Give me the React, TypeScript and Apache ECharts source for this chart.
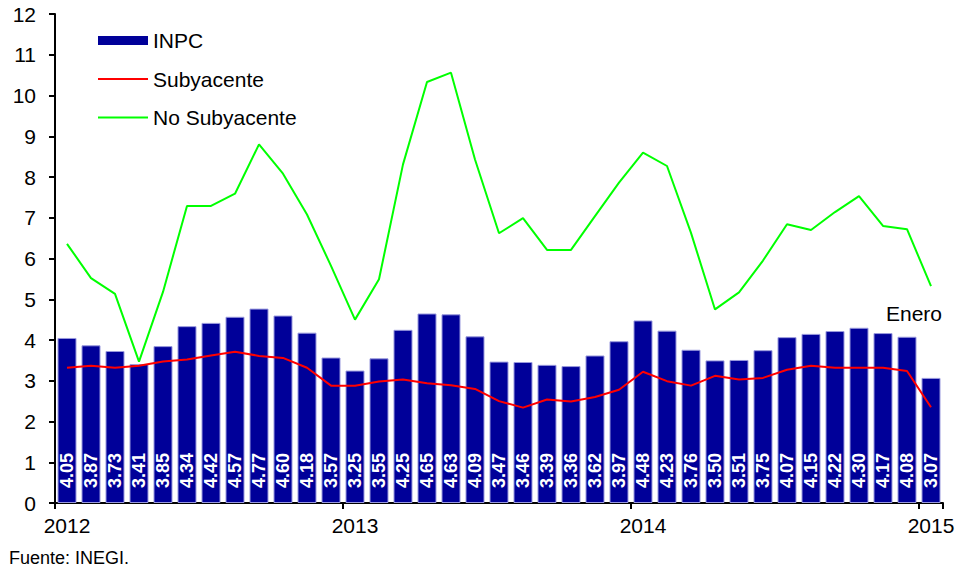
import React, { useEffect, useRef } from "react";
import * as echarts from "echarts";

const months = [
  "Ene-2012", "Feb-2012", "Mar-2012", "Abr-2012", "May-2012", "Jun-2012", "Jul-2012", "Ago-2012", "Sep-2012", "Oct-2012", "Nov-2012", "Dic-2012",
  "Ene-2013", "Feb-2013", "Mar-2013", "Abr-2013", "May-2013", "Jun-2013", "Jul-2013", "Ago-2013", "Sep-2013", "Oct-2013", "Nov-2013", "Dic-2013",
  "Ene-2014", "Feb-2014", "Mar-2014", "Abr-2014", "May-2014", "Jun-2014", "Jul-2014", "Ago-2014", "Sep-2014", "Oct-2014", "Nov-2014", "Dic-2014",
  "Ene-2015",
];

const inpc = [
  4.05, 3.87, 3.73, 3.41, 3.85, 4.34, 4.42, 4.57, 4.77, 4.60, 4.18, 3.57,
  3.25, 3.55, 4.25, 4.65, 4.63, 4.09, 3.47, 3.46, 3.39, 3.36, 3.62, 3.97,
  4.48, 4.23, 3.76, 3.50, 3.51, 3.75, 4.07, 4.15, 4.22, 4.30, 4.17, 4.08,
  3.07,
];

const subyacente = [
  3.32, 3.37, 3.32, 3.37, 3.47, 3.52, 3.62, 3.71, 3.61, 3.56, 3.32, 2.88,
  2.88, 2.98, 3.03, 2.94, 2.89, 2.80, 2.50, 2.34, 2.54, 2.49, 2.60, 2.78,
  3.22, 2.99, 2.88, 3.12, 3.03, 3.07, 3.27, 3.37, 3.32, 3.32, 3.32, 3.24,
  2.35,
];

const noSubyacente = [
  6.36, 5.52, 5.13, 3.47, 5.18, 7.29, 7.29, 7.59, 8.80, 8.08, 7.08, 5.82,
  4.50, 5.49, 8.31, 10.33, 10.56, 8.43, 6.62, 6.99, 6.21, 6.21, 7.04, 7.86,
  8.60, 8.27, 6.63, 4.75, 5.17, 5.95, 6.84, 6.70, 7.14, 7.53, 6.80, 6.72,
  5.32,
];

const FONT = "'Liberation Sans', Arial, Helvetica, sans-serif";
const LINE_ICON = "path://M0,0 L50,0 L50,2 L0,2 Z";

export default function App() {
  const ref = useRef<HTMLDivElement>(null);

  useEffect(() => {
    document.body.style.margin = "0";
    if (!ref.current) return;
    const chart = echarts.init(ref.current, undefined, { renderer: "svg" });
    const yearTick = (idx: number) => idx % 12 === 0;
    chart.setOption({
      animation: false,
      backgroundColor: "#ffffff",
      textStyle: { fontFamily: FONT },
      grid: { left: 55, right: 19, top: 14, bottom: 66, containLabel: false },
      legend: {
        orient: "vertical",
        left: 98,
        top: 30,
        padding: 0,
        itemWidth: 50,
        itemHeight: 9,
        itemGap: 17.5,
        textStyle: { fontFamily: FONT, fontSize: 21, color: "#000", lineHeight: 21 },
        data: [
          { name: "INPC", icon: "rect", itemStyle: { color: "#000099", borderWidth: 0 } },
          { name: "Subyacente", icon: LINE_ICON, itemStyle: { color: "#ff0000", borderWidth: 0 } },
          { name: "No Subyacente", icon: LINE_ICON, itemStyle: { color: "#00ff00", borderWidth: 0 } },
        ],
      },
      xAxis: {
        type: "category",
        data: months,
        boundaryGap: true,
        axisLine: { show: true, lineStyle: { color: "#000", width: 2 } },
        axisTick: { show: true, interval: yearTick, length: 6, lineStyle: { color: "#000", width: 2 } },
        axisLabel: {
          interval: yearTick,
          margin: 12,
          fontSize: 21,
          color: "#000",
          fontFamily: FONT,
          formatter: (v: string) => v.split("-")[1],
        },
        splitLine: { show: false },
      },
      yAxis: {
        type: "value",
        min: 0,
        max: 12,
        interval: 1,
        axisLine: { show: true, lineStyle: { color: "#000", width: 2 } },
        axisTick: { show: true, length: 6, lineStyle: { color: "#000", width: 2 } },
        axisLabel: { margin: 19, fontSize: 21, color: "#000", fontFamily: FONT },
        splitLine: { show: false },
      },
      series: [
        {
          name: "INPC",
          type: "bar",
          data: inpc,
          barWidth: 19,
          itemStyle: { color: "#000099", borderColor: "#9999dd", borderWidth: 1 },
          label: {
            show: true,
            position: "insideBottom",
            rotate: 90,
            align: "left",
            verticalAlign: "middle",
            distance: 15,
            color: "#ffffff",
            fontSize: 18,
            fontWeight: "bold",
            fontFamily: FONT,
            formatter: (p: any) => Number(p.value).toFixed(2),
          },
          z: 1,
        },
        {
          name: "Subyacente",
          type: "line",
          data: subyacente,
          symbol: "none",
          lineStyle: { color: "#ff0000", width: 2 },
          itemStyle: { color: "#ff0000" },
          z: 3,
        },
        {
          name: "No Subyacente",
          type: "line",
          data: noSubyacente,
          symbol: "none",
          lineStyle: { color: "#00ff00", width: 2 },
          itemStyle: { color: "#00ff00" },
          z: 3,
        },
      ],
      graphic: [
        {
          type: "text",
          right: 20,
          top: 303,
          style: { text: "Enero", fill: "#000", font: `21px ${FONT}` },
        },
        {
          type: "text",
          left: 9,
          top: 549,
          style: { text: "Fuente: INEGI.", fill: "#000", font: `18px ${FONT}` },
        },
      ],
    });
    return () => chart.dispose();
  }, []);

  return <div ref={ref} style={{ width: 962, height: 569 }} />;
}
